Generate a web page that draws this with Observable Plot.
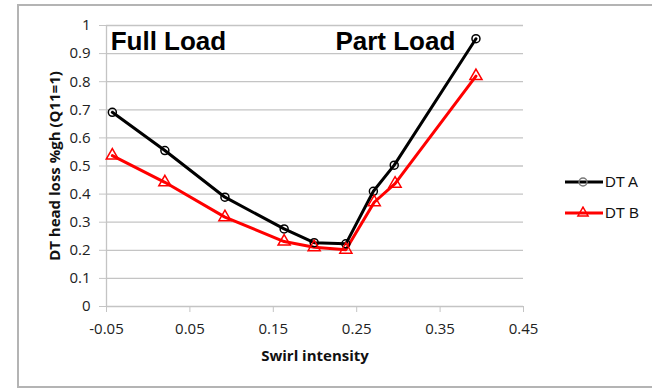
<!DOCTYPE html>
<html>
<head>
<meta charset="utf-8">
<script src="https://cdn.jsdelivr.net/npm/d3@7"></script>
<script src="https://cdn.jsdelivr.net/npm/@observablehq/plot@0.6"></script>
<style>
  html, body { margin: 0; padding: 0; background: #fff; }
  #wrap { position: relative; width: 652px; height: 388px; overflow: hidden; font-family: "Open Sans", sans-serif; }
  #frame { position: absolute; left: 17px; top: 4px; width: 700px; height: 384px; border: 2px solid #b4b4b4; box-sizing: border-box; }
  #chart { position: absolute; left: 0; top: 0; }
  #legend { position: absolute; left: 565px; top: 166px; font-family: "Liberation Sans", Arial, sans-serif; font-size: 15px; color: #111; }
  .item { display: flex; align-items: center; height: 31px; }
  .item svg { margin-right: 2px; }
</style>
</head>
<body>
<div id="wrap">
  <div id="frame"></div>
  <div id="chart"></div>
  <div id="legend"></div>
</div>
<script>
const swirlA = [-0.043, 0.020, 0.092, 0.163, 0.199, 0.237, 0.270, 0.295, 0.393];
const lossA  = [0.691, 0.555, 0.389, 0.276, 0.227, 0.223, 0.410, 0.503, 0.953];
const swirlB = [-0.043, 0.020, 0.092, 0.163, 0.199, 0.237, 0.271, 0.296, 0.393];
const lossB  = [0.537, 0.442, 0.318, 0.231, 0.211, 0.202, 0.371, 0.437, 0.820];
const seriesNames = ["DT A", "DT B"];
const seriesColors = ["#000000", "#ff0000"];
const seriesSymbols = ["circle", "triangle"];
const xTicks = [-0.05, 0.05, 0.15, 0.25, 0.35, 0.45];
const yTicks = [0, 0.1, 0.2, 0.3, 0.4, 0.5, 0.6, 0.7, 0.8, 0.9, 1];
const annotations = [
  {label: "Full Load", x: -0.045, y: 0.943},
  {label: "Part Load", x: 0.2245, y: 0.943}
];

const dataA = swirlA.map((x, i) => ({x, y: lossA[i], s: seriesNames[0]}));
const dataB = swirlB.map((x, i) => ({x, y: lossB[i], s: seriesNames[1]}));

const fmt = d => d === 0 ? "0" : d === 1 ? "1" : String(d);

const chart = Plot.plot({
  width: 652,
  height: 388,
  marginLeft: 106,
  marginRight: 129,
  marginTop: 25,
  marginBottom: 82,
  style: {fontFamily: "'Open Sans', sans-serif", fontSize: "15px", color: "#222", background: "transparent"},
  x: {domain: [-0.05, 0.45]},
  y: {domain: [0, 1]},
  marks: [
    Plot.ruleY(yTicks, {stroke: "#c4c4c4", strokeWidth: 1.3}),
    Plot.ruleX([-0.05], {stroke: "#c4c4c4", strokeWidth: 1.3}),
    Plot.axisY(yTicks, {tickSize: 7, tickPadding: 9, stroke: "#c4c4c4", tickFormat: fmt, fontSize: 15, label: null}),
    Plot.axisX(xTicks, {tickSize: 6, tickPadding: 11, stroke: "#c4c4c4", tickFormat: fmt, fontSize: 15, label: null}),
    Plot.text(["DT head loss %gh (Q11=1)"], {frameAnchor: "left", textAnchor: "middle", dx: -51, rotate: -90, fontWeight: "bold", fontSize: 15, fill: "#111", text: d => d}),
    Plot.text(["Swirl intensity"], {frameAnchor: "bottom", textAnchor: "middle", dy: 54, fontWeight: "bold", fontSize: 15, fill: "#111", text: d => d}),
    Plot.line(dataA, {x: "x", y: "y", stroke: seriesColors[0], strokeWidth: 3}),
    Plot.line(dataB, {x: "x", y: "y", stroke: seriesColors[1], strokeWidth: 3}),
    Plot.dot(dataA, {x: "x", y: "y", symbol: seriesSymbols[0], r: 4, fill: "white", fillOpacity: 0, stroke: seriesColors[0], strokeWidth: 1.5}),
    Plot.dot(dataB, {x: "x", y: "y", symbol: seriesSymbols[1], r: 4.5, fill: "white", fillOpacity: 0, stroke: seriesColors[1], strokeWidth: 1.5}),
    Plot.text(annotations, {x: "x", y: "y", text: "label", textAnchor: "start", fontFamily: "'Liberation Sans', Arial, sans-serif", fontWeight: "bold", fontSize: 26, fill: "#000"})
  ]
});
document.getElementById("chart").appendChild(chart);

// legend
const legend = document.getElementById("legend");
seriesNames.forEach((name, i) => {
  const item = document.createElement("div");
  item.className = "item";
  const sym = d3.symbol(seriesSymbols[i] === "circle" ? d3.symbolCircle : d3.symbolTriangle, seriesSymbols[i] === "circle" ? 50 : 45)();
  item.innerHTML = `<svg width="38" height="14"><line x1="0" x2="38" y1="7" y2="7" stroke="${seriesColors[i]}" stroke-width="3"/><path d="${sym}" transform="translate(18,7)" fill="white" fill-opacity="0" stroke="${i === 0 ? '#777' : seriesColors[i]}" stroke-width="1.5"/></svg><span>${name}</span>`;
  legend.appendChild(item);
});
</script>
</body>
</html>
